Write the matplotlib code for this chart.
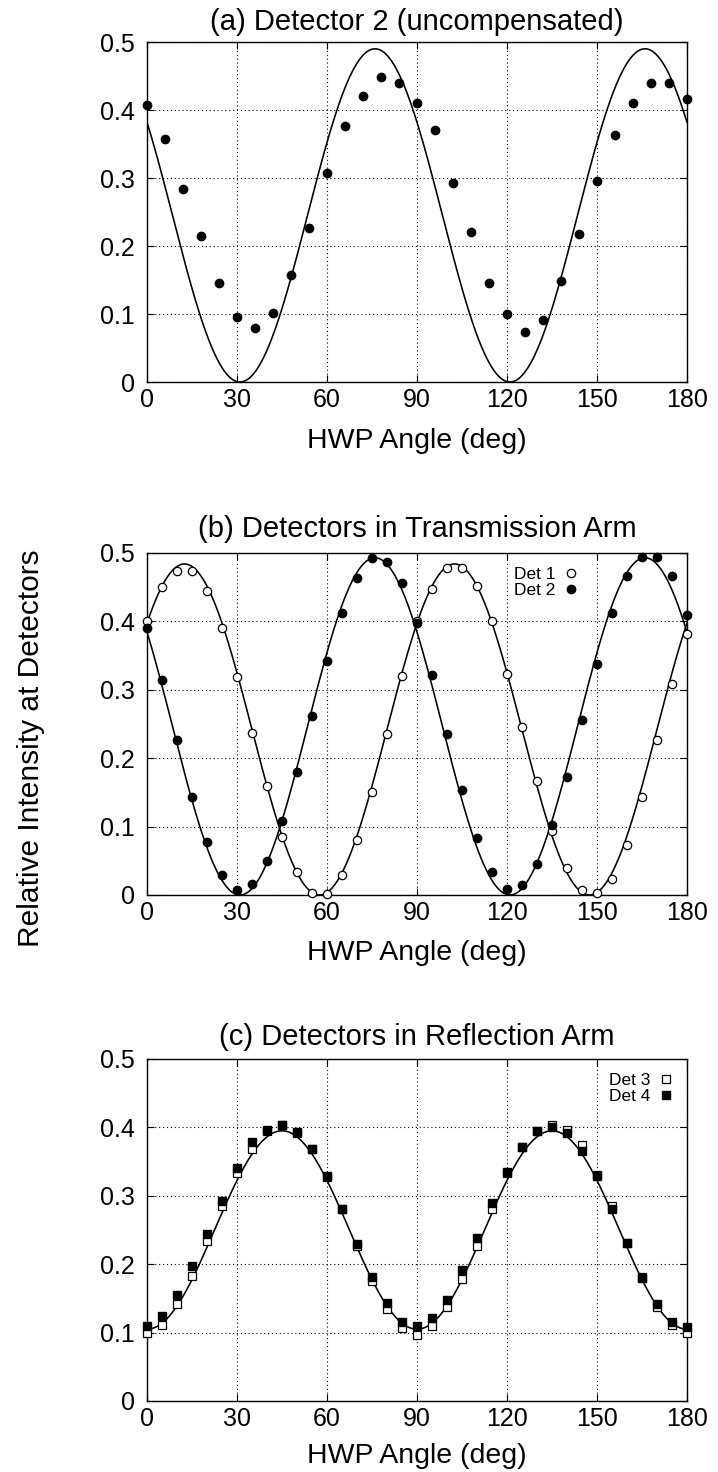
import numpy as np
import matplotlib
matplotlib.use("Agg")
import matplotlib.pyplot as plt

plt.rcParams['font.family'] = ['Liberation Sans', 'DejaVu Sans']

# ---- measured data -------------------------------------------------------
# (a) Detector 2, uncompensated: every 6 degrees
angle_a = [0, 6, 12, 18, 24, 30, 36, 42, 48, 54, 60, 66, 72, 78, 84, 90,
           96, 102, 108, 114, 120, 126, 132, 138, 144, 150, 156, 162, 168, 174, 180]
det2_a = [0.407, 0.358, 0.284, 0.215, 0.145, 0.095, 0.079, 0.102, 0.157, 0.227,
          0.308, 0.377, 0.421, 0.449, 0.440, 0.411, 0.370, 0.293, 0.220, 0.145,
          0.100, 0.073, 0.091, 0.148, 0.217, 0.295, 0.363, 0.411, 0.439, 0.439, 0.416]

# (b) and (c): every 5 degrees
angle_bc = list(range(0, 181, 5))
det1_b = [0.400, 0.451, 0.474, 0.474, 0.444, 0.391, 0.318, 0.237, 0.159, 0.085,
          0.034, 0.003, 0.002, 0.029, 0.080, 0.150, 0.235, 0.320, 0.400, 0.447,
          0.478, 0.478, 0.452, 0.400, 0.323, 0.246, 0.166, 0.094, 0.039, 0.008,
          0.003, 0.023, 0.073, 0.144, 0.227, 0.308, 0.382]
det2_b = [0.391, 0.314, 0.227, 0.144, 0.077, 0.029, 0.008, 0.016, 0.050, 0.108,
          0.180, 0.261, 0.342, 0.412, 0.463, 0.492, 0.487, 0.456, 0.398, 0.322,
          0.236, 0.154, 0.084, 0.033, 0.009, 0.015, 0.046, 0.102, 0.173, 0.256,
          0.338, 0.412, 0.466, 0.494, 0.494, 0.467, 0.410]
det3_c = [0.099, 0.111, 0.142, 0.183, 0.234, 0.285, 0.333, 0.368, 0.395, 0.403,
          0.392, 0.368, 0.327, 0.280, 0.226, 0.176, 0.134, 0.107, 0.097, 0.109,
          0.137, 0.178, 0.227, 0.280, 0.334, 0.371, 0.395, 0.403, 0.396, 0.374,
          0.331, 0.285, 0.231, 0.182, 0.138, 0.111, 0.100]
det4_c = [0.109, 0.124, 0.155, 0.197, 0.244, 0.293, 0.341, 0.379, 0.396, 0.403,
          0.394, 0.368, 0.329, 0.280, 0.230, 0.182, 0.143, 0.115, 0.109, 0.122,
          0.148, 0.191, 0.238, 0.289, 0.335, 0.371, 0.395, 0.401, 0.392, 0.365,
          0.329, 0.280, 0.231, 0.180, 0.142, 0.115, 0.108]

# fitted model parameters: I = offset + amp * sin^2(2 (theta - zero))
fit_a = dict(offset=0.0, amp=0.490, zero=31.0)
fit_b1 = dict(offset=0.0, amp=0.484, zero=57.5)
fit_b2 = dict(offset=0.0, amp=0.493, zero=31.0)
fit_c = dict(offset=0.105, amp=0.290, zero=0.0)

xticks = [0, 30, 60, 90, 120, 150, 180]
yticks = [0, 0.1, 0.2, 0.3, 0.4, 0.5]
ytick_labels = ['0', '0.1', '0.2', '0.3', '0.4', '0.5']


def model(theta, p):
    return p['offset'] + p['amp'] * np.sin(np.radians(2 * (theta - p['zero']))) ** 2


# ---- figure layout (pixel based) ----------------------------------------
W, H = 718, 1472
fig = plt.figure(figsize=(W / 100, H / 100), dpi=100)

FS_TICK = 18.0
FS_LABEL = 20.5
FS_TITLE = 21.0
FS_YLABEL = 21.5
left_px, right_px = 147, 687
panels = [(42, 382), (553, 895), (1059, 1401)]
titles = ['(a) Detector 2 (uncompensated)',
          '(b) Detectors in Transmission Arm',
          '(c) Detectors in Reflection Arm']
title_y = [22, 529, 1037]
xlabel_y = [441, 953, 1456]

theta = np.linspace(0, 180, 721)
axes = []
for i, (top, bot) in enumerate(panels):
    ax = fig.add_axes([left_px / W, 1 - bot / H, (right_px - left_px) / W, (bot - top) / H])
    ax.set_xlim(0, 180)
    ax.set_ylim(0, 0.5)
    ax.set_xticks(xticks)
    ax.set_yticks(yticks)
    ax.set_yticklabels(ytick_labels)
    ax.tick_params(direction='in', length=5, width=0.8, top=True, right=True,
                   labelsize=FS_TICK, colors='black')
    ax.tick_params(axis='x', pad=4.5)
    ax.tick_params(axis='y', pad=9)
    ax.grid(True, color='black', linestyle=(0, (1, 2.5)), linewidth=0.8)
    for s in ax.spines.values():
        s.set_linewidth(1.0)
    ax.set_xlabel('HWP Angle (deg)', fontsize=FS_LABEL)
    ax.xaxis.set_label_coords(0.5, (bot - xlabel_y[i]) / (bot - top))
    ax.xaxis.label.set_va('center')
    fig.text(((left_px + right_px) / 2) / W, 1 - title_y[i] / H, titles[i],
             ha='center', va='center', fontsize=FS_TITLE)
    axes.append(ax)

ms = 6.0
lw = 1.15

# (a)
ax = axes[0]
ax.plot(theta, model(theta, fit_a), color='black', lw=lw, zorder=2)
ax.plot(angle_a, det2_a, 'o', color='black', ms=ms, clip_on=False, zorder=3)

# (b)
ax = axes[1]
ax.plot(theta, model(theta, fit_b1), color='black', lw=lw, zorder=2)
ax.plot(theta, model(theta, fit_b2), color='black', lw=lw, zorder=2)
ax.plot(angle_bc, det1_b, 'o', mfc='white', mec='black', mew=0.9, ms=ms,
        clip_on=False, zorder=3, label='Det 1')
ax.plot(angle_bc, det2_b, 'o', color='black', ms=ms, clip_on=False, zorder=3,
        label='Det 2')
ax.legend(loc='upper right', bbox_to_anchor=(0.815, 0.99), frameon=False,
          markerfirst=False, handlelength=0.6, handletextpad=0.6,
          labelspacing=0.05, fontsize=12.5, borderaxespad=0.2)

# (c)
ax = axes[2]
ax.plot(theta, model(theta, fit_c), color='black', lw=lw, zorder=2)
ax.plot(angle_bc, det3_c, 's', mfc='white', mec='black', mew=0.9, ms=ms,
        clip_on=False, zorder=3, label='Det 3')
ax.plot(angle_bc, det4_c, 's', color='black', ms=ms, clip_on=False, zorder=4,
        label='Det 4')
ax.legend(loc='upper right', bbox_to_anchor=(0.99, 0.99), frameon=False,
          markerfirst=False, handlelength=0.6, handletextpad=0.6,
          labelspacing=0.05, fontsize=12.5, borderaxespad=0.2)

fig.text(31 / W, 1 - 748 / H,
         'Relative Intensity at Detectors', rotation=90, ha='center', va='center',
         fontsize=FS_YLABEL)

fig.savefig('out.png', dpi=100)
